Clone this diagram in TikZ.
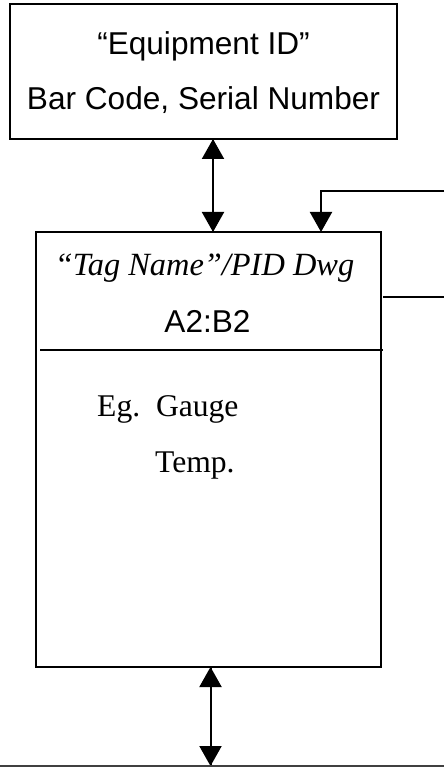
\documentclass[tikz,border=0pt]{standalone}
\usepackage{fontspec}
\setmainfont{Liberation Serif}
\setsansfont{Liberation Sans}
\usetikzlibrary{arrows.meta}
\begin{document}
\begin{tikzpicture}[x=1pt,y=-1pt,
  boxstyle/.style={draw,line width=2.5pt,inner sep=0pt,outer sep=0pt},
  conn/.style={line width=2pt},
  tip/.style={-{Triangle[length=20pt,width=22pt]}},
  sanstext/.style={font=\sffamily\fontsize{31.6}{38}\selectfont,anchor=base,inner sep=0pt},
  seriftext/.style={font=\rmfamily\fontsize{31.6}{38}\selectfont,anchor=base west,inner sep=0pt},
  itext/.style={font=\rmfamily\itshape\fontsize{32.4}{38}\selectfont,anchor=base,inner sep=0pt}]
\useasboundingbox (0,0) rectangle (444,767);
% boxes
\node[boxstyle,minimum width=387pt,minimum height=135pt] (top) at (203.5,71.5) {};
\node[boxstyle,minimum width=345pt,minimum height=435pt] (mid) at (208.5,449.5) {};
% texts
\node[sanstext] (t1) at (203.5,55) {“Equipment ID”};
\node[sanstext] (t2) at (203.5,110) {Bar Code, Serial Number};
\node[itext] (t3) at (204.5,275) {“Tag Name”/PID Dwg};
\node[sanstext] (t4) at (207.5,332) {A2:B2};
\node[seriftext] (t5) at (97,416) {Eg.\ \ Gauge};
\node[seriftext] (t6) at (155,472) {Temp.};
% coordinates
\coordinate (ax1) at (213,0);
\coordinate (ax2) at (321,191);
\coordinate (ar1) at (444,191);
\coordinate (ax3) at (210.5,0);
\coordinate (dl) at (40,350);
\coordinate (dr) at (383,350);
\coordinate (ol) at (383,297);
\coordinate (or) at (444,297);
\coordinate (bl) at (0,766);
\coordinate (br) at (444,766);
% divider
\draw[conn] (dl) -- (dr);
% connectors
\draw[conn,tip] (top.south -| ax1) -- (mid.north -| ax1);
\draw[conn,tip] (mid.north -| ax1) -- (top.south -| ax1);
\draw[conn,tip] (ar1) -- (ax2) -- (mid.north -| ax2);
\draw[conn] (ol) -- (or);
\draw[conn,tip] (mid.south -| ax3) -- (bl -| ax3);
\draw[conn,tip] (bl -| ax3) -- (mid.south -| ax3);
\draw[line width=1.5pt,black!75] (bl) -- (br);
\end{tikzpicture}
\end{document}
